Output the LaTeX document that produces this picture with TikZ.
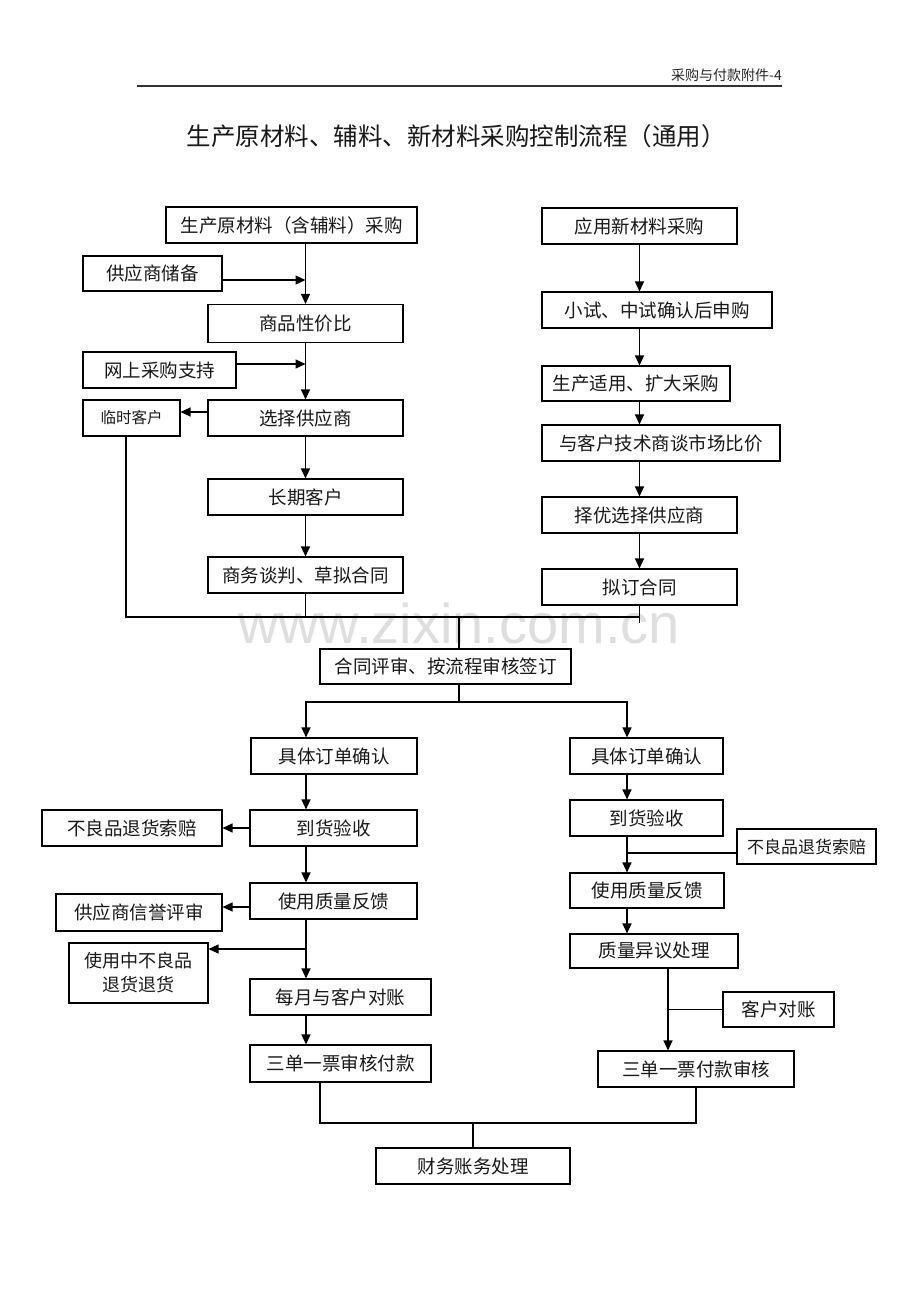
\documentclass[tikz,border=0pt]{standalone}
\usepackage{fontspec}
\setmainfont{Noto Sans CJK SC}
\newfontfamily\wmfont{Liberation Sans}
\usetikzlibrary{arrows.meta}
\begin{document}
\begin{tikzpicture}[x=1pt,y=-1pt,
  flowbox/.style={draw=black,line width=1.1pt,minimum height=36pt,inner sep=0pt,
    font=\fontsize{18.5}{22}\selectfont,text=black!90},
  arr/.style={line width=1.2pt,draw=black,-{Triangle[length=10pt,width=9pt]}},
  ln/.style={line width=1.1pt,draw=black}]
\useasboundingbox (0,0) rectangle (920,1302);
\fill[white] (0,0) rectangle (920,1302);

% watermark
\node[font=\wmfont\fontsize{56}{58}\selectfont,text=black!13,anchor=base,inner sep=0pt] (WM) at (459,643) {www.zixin.com.cn};

% header
\node[anchor=base east,font=\fontsize{14}{16}\selectfont,text=black!85,inner sep=0pt] (HD) at (782,80) {采购与付款附件-4};
\draw[line width=1.5pt,black!80] (137,86) -- (782,86);
\node[font=\fontsize{24.5}{28}\selectfont,text=black!90] (TT) at (456,136) {生产原材料、辅料、新材料采购控制流程（通用）};

% left upper column
\node[flowbox,minimum width=251pt] (A1) at (291.5,225) {生产原材料（含辅料）采购};
\node[flowbox,minimum width=139pt,minimum height=35pt] (S1) at (152.5,273.5) {供应商储备};
\node[flowbox,minimum width=195pt,minimum height=38pt] (B1) at (305.5,323.5) {商品性价比};
\node[flowbox,minimum width=153pt] (S2) at (159.5,370) {网上采购支持};
\node[flowbox,minimum width=195pt] (B2) at (305.5,418) {选择供应商};
\node[flowbox,minimum width=97pt,font=\fontsize{15.5}{18}\selectfont] (T1) at (131.5,418) {临时客户};
\node[flowbox,minimum width=195pt] (B3) at (305.5,497) {长期客户};
\node[flowbox,minimum width=195pt] (B4) at (305.5,575) {商务谈判、草拟合同};

% right upper column
\node[flowbox,minimum width=195pt] (R1) at (639.5,226) {应用新材料采购};
\node[flowbox,minimum width=230pt] (R2) at (657,310) {小试、中试确认后申购};
\node[flowbox,minimum width=188pt,minimum height=35pt] (R3) at (636,383.5) {生产适用、扩大采购};
\node[flowbox,minimum width=238pt] (R4) at (661,443) {与客户技术商谈市场比价};
\node[flowbox,minimum width=195pt] (R5) at (639.5,515) {择优选择供应商};
\node[flowbox,minimum width=195pt] (R6) at (639.5,587) {拟订合同};

% contract review
\node[flowbox,minimum width=251pt,minimum height=35pt] (C1) at (445.5,666.5) {合同评审、按流程审核签订};

% left lower column
\node[flowbox,minimum width=166pt] (LD1) at (334,756) {具体订单确认};
\node[flowbox,minimum width=167pt] (LD2) at (333.5,828) {到货验收};
\node[flowbox,minimum width=180pt] (LX1) at (132,828) {不良品退货索赔};
\node[flowbox,minimum width=167pt] (LD3) at (333.5,901) {使用质量反馈};
\node[flowbox,minimum width=166pt,minimum height=37pt] (LX2) at (139,912.5) {供应商信誉评审};
\node[flowbox,minimum width=139pt,minimum height=60pt,align=center,font=\fontsize{18}{24}\selectfont] (LX3) at (138.5,973) {使用中不良品\\退货退货};
\node[flowbox,minimum width=181pt] (LD4) at (340.5,997) {每月与客户对账};
\node[flowbox,minimum width=181pt,minimum height=37pt] (LD5) at (340.5,1063.5) {三单一票审核付款};

% right lower column
\node[flowbox,minimum width=153pt] (RD1) at (646.5,756) {具体订单确认};
\node[flowbox,minimum width=153pt] (RD2) at (646.5,818) {到货验收};
\node[flowbox,minimum width=139pt,minimum height=35pt,font=\fontsize{17}{20}\selectfont] (RX1) at (806.5,846.5) {不良品退货索赔};
\node[flowbox,minimum width=154pt,minimum height=35pt] (RD3) at (647,890.5) {使用质量反馈};
\node[flowbox,minimum width=168pt,minimum height=34pt] (RD4) at (654,951) {质量异议处理};
\node[flowbox,minimum width=111pt,minimum height=35pt] (RX2) at (778.5,1009.5) {客户对账};
\node[flowbox,minimum width=196pt] (RD5) at (696,1069) {三单一票付款审核};

% finance
\node[flowbox,minimum width=194pt] (F1) at (473,1166) {财务账务处理};

% ---- connectors upper left
\draw[arr] (A1.south -| B1.north) -- (B1.north);
\draw[arr] ([yshift=-6.5pt]S1.east) -- ([yshift=-6.5pt]S1.east -| B1.north);
\draw[arr] (B1.south) -- (B2.north);
\draw[arr] ([yshift=6pt]S2.east) -- ([yshift=6pt]S2.east -| B1.north);
\draw[arr] ([yshift=6pt]B2.west) -- ([yshift=6pt]T1.east);
\draw[arr] (B2.south) -- (B3.north);
\draw[arr] (B3.south) -- (B4.north);

% ---- connectors upper right
\draw[arr] (R1.south) -- (R1.south |- R2.north);
\draw[arr] (R1.south |- R2.south) -- (R1.south |- R3.north);
\draw[arr] (R1.south |- R3.south) -- (R1.south |- R4.north);
\draw[arr] (R1.south |- R4.south) -- (R1.south |- R5.north);
\draw[arr] (R5.south) -- (R6.north);

% ---- merge to contract review
\coordinate (J) at (459,617);
\coordinate (TL) at (126,617);
\draw[ln] ([xshift=-5.5pt]T1.south) -- (TL) -- (TL -| R6.south);
\draw[ln] (R6.south) -- ++(0,17);
\draw[ln] (B4.south) -- (B4.south |- J);
\draw[ln] (J) -- (J |- C1.north);

% ---- split
\coordinate (K) at (459,702);
\coordinate (LT) at (306,702);
\coordinate (RT) at (627,702);
\draw[ln] (C1.south -| K) -- (K);
\draw[arr] (K) -- (LT) -- (LT |- LD1.north);
\draw[arr] (K) -- (RT) -- (RT |- RD1.north);

% ---- left lower
\draw[arr] (LT |- LD1.south) -- (LT |- LD2.north);
\draw[arr] (LD2.west) -- (LX1.east);
\draw[arr] (LT |- LD2.south) -- (LT |- LD3.north);
\draw[arr] ([yshift=-6pt]LD3.west) -- ([yshift=-6pt]LD3.west -| LX2.east);
\draw[arr] (LT |- LD3.south) -- (LT |- LD4.north);
\coordinate (LB) at (306,949);
\draw[arr] (LB) -- (LB -| LX3.east);
\draw[arr] (LT |- LD4.south) -- (LT |- LD5.north);

% ---- right lower
\draw[arr] (RT |- RD1.south) -- (RT |- RD2.north);
\draw[arr] (RT |- RD2.south) -- (RT |- RD3.north);
\draw[ln] ([yshift=-6.5pt]RX1.west) -- ([yshift=-6.5pt]RX1.west -| RT);
\draw[arr] (RT |- RD3.south) -- (RT |- RD4.north);
\coordinate (RT2) at (668,0);
\draw[arr] (RT2 |- RD4.south) -- (RT2 |- RD5.north);
\draw[ln] (RX2.west) -- (RX2.west -| RT2);

% ---- bottom merge
\coordinate (BM) at (473,1123);
\draw[ln] ([xshift=-20.5pt]LD5.south) -- ([xshift=-20.5pt]LD5.south |- BM) -- (BM -| RD5.south) -- (RD5.south);
\draw[ln] (BM) -- (F1.north);
\end{tikzpicture}
\end{document}
